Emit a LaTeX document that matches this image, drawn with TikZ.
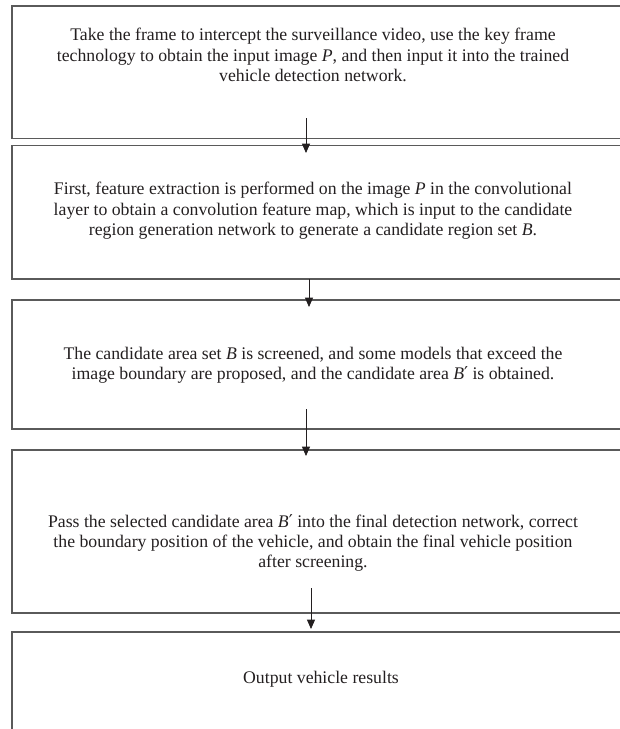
\documentclass[tikz,border=0pt]{standalone}
\usepackage{fontspec}
\setmainfont{Liberation Serif}
\newfontfamily\primefont{DejaVu Serif}
\usetikzlibrary{arrows.meta,fit}

\definecolor{boxline}{HTML}{5A5A5A}
\definecolor{ink}{HTML}{231F20}

\newcommand{\bprime}{\textit{B}{\primefont ′}}

\tikzset{
  stagebox/.style={draw=boxline, line width=1.2pt, inner sep=0pt, rectangle},
  stagetext/.style={align=center, text=ink, inner sep=0pt,
    font=\fontsize{13.3pt}{15.3pt}\selectfont},
  flow/.style={draw=ink, line width=0.6pt,
    -{Triangle[length=7pt,width=6pt]}},
}

\begin{document}
\begin{tikzpicture}[x=0.75pt,y=-0.75pt]
  % page frame: 620 x 729 units, boxes run past the right and bottom edges
  \clip (0,0) rectangle (620,729);

  % stage boxes
  \node[stagebox, fit={(12,6) (626,138.5)}] (b1) {};
  \node[stagebox, fit={(12,145.5) (626,279)}] (b2) {};
  \node[stagebox, fit={(12,300) (626,429)}] (b3) {};
  \node[stagebox, fit={(12,450) (626,613)}] (b4) {};
  \node[stagebox, fit={(12,632) (626,790)}] (b5) {};

  % stage descriptions
  \node[stagetext] (t1) at (313,55) {Take the frame to intercept the surveillance video, use the key frame\\
    technology to obtain the input image \textit{P}, and then input it into the trained\\
    vehicle detection network.};
  \node[stagetext] (t2) at (313,211) {First, feature extraction is performed on the image \textit{P} in the convolutional\\
    layer to obtain a convolution feature map, which is input to the candidate\\
    region generation network to generate a candidate region set \textit{B}.};
  \node[stagetext] (t3) at (313,365) {The candidate area set \textit{B} is screened, and some models that exceed the\\
    image boundary are proposed, and the candidate area \bprime{} is obtained.};
  \node[stagetext] (t4) at (313,543) {Pass the selected candidate area \bprime{} into the final detection network, correct\\
    the boundary position of the vehicle, and obtain the final vehicle position\\
    after screening.};
  \node[stagetext] (t5) at (321,679) {Output vehicle results};

  % arrow ends
  \coordinate (a1s) at (306,118);
  \coordinate (a1e) at (306,153);
  \coordinate (a2s) at (309,279);
  \coordinate (a2e) at (309,307);
  \coordinate (a3s) at (306,409);
  \coordinate (a3e) at (306,456);
  \coordinate (a4s) at (311,588);
  \coordinate (a4e) at (311,629);

  % flow arrows
  \draw[flow] (a1s) -- (a1e);
  \draw[flow] (a2s) -- (a2e);
  \draw[flow] (a3s) -- (a3e);
  \draw[flow] (a4s) -- (a4e);
\end{tikzpicture}
\end{document}
